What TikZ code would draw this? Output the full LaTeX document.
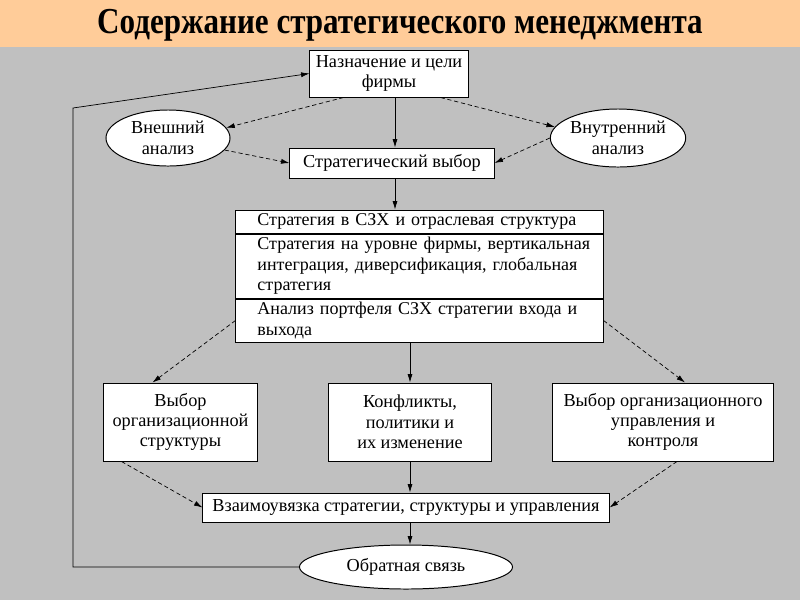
\documentclass[tikz,border=0pt]{standalone}
\usepackage{fontspec}
\setmainfont{Liberation Serif}
\usepackage{tikz}
\usetikzlibrary{arrows.meta,positioning,calc,shapes.geometric}
\definecolor{peach}{RGB}{255,204,153}
\definecolor{slide}{RGB}{192,192,192}
\newcommand{\boxfont}{\fontsize{13}{14.5}\selectfont}
\newcommand{\rowfont}{\fontsize{12.8}{14.5}\selectfont}

\begin{document}
\begin{tikzpicture}[x=0.025cm,y=-0.025cm,
	box/.style={draw,fill=white,line width=0.7pt,font=\boxfont,align=center,inner sep=0pt},
	rowbox/.style={box,font=\rowfont,align=left,text width=8.9cm,inner xsep=0.1375cm,minimum width=9.175cm,
		execute at begin node={\leftskip=0.4cm}},
	oval/.style={ellipse,draw,fill=white,line width=0.7pt,font=\boxfont,align=center,inner sep=0pt},
	sline/.style={line width=0.5pt,-{Latex[length=6pt,width=3.6pt]}},
	dline/.style={sline,densely dashed}]
			\fill[slide] (0,0) rectangle (800,600);
			\fill[peach] (0,0) rectangle (800,47);
			\node (title) at (400,25) {\fontsize{26}{26}\selectfont\bfseries\scalebox{0.85}[1]{Содержание стратегического менеджмента}};
			
			\node[box,minimum width=3.95cm,minimum height=1.175cm] (goal) at (389,73.5) {Назначение и цели\\фирмы};
			\node[oval,minimum width=3.1cm,minimum height=1.4cm] (ext) at (168,138) {Внешний\\анализ};
			\node[oval,minimum width=3.075cm,minimum height=1.45cm] (int) at (618,138) {Внутренний\\анализ};
			\node[box,minimum width=5.1cm,minimum height=0.75cm] (choice) at (392,163) {Стратегический выбор};
			
			\node[rowbox,minimum height=0.575cm] (s1) at (419.5,221.5) {Стратегия в СЗХ и отраслевая структура};
			\node[rowbox,minimum height=1.6cm,below=0pt of s1] (s2) {Стратегия на уровне фирмы, вертикальная\\интеграция, диверсификация, глобальная\\стратегия};
			\node[rowbox,minimum height=1.075cm,below=0pt of s2] (s3) {Анализ портфеля СЗХ стратегии входа и\\выхода};
			
			\node[box,minimum width=3.825cm,minimum height=1.95cm] (org) at (180.5,422) {Выбор\\организационной\\структуры};
			\node[box,minimum width=4.05cm,minimum height=1.95cm] (conf) at (410,422) {Конфликты,\\политики и\\их изменение};
			\node[box,minimum width=5.5cm,minimum height=1.95cm] (ctrl) at (663,422) {Выбор организационного\\управления и\\контроля};
			
			\node[box,minimum width=10.15cm,minimum height=0.725cm] (link) at (406,507.5) {Взаимоувязка стратегии, структуры и управления};
			\node[oval,minimum width=5.325cm,minimum height=1.1cm] (fb) at (406,567) {Обратная связь};
			\coordinate (turn) at (73,108);
			
			\draw[dline] ([xshift=0.85cm]goal.south west) -- (ext.10);
			\draw[dline] ([xshift=-0.7cm]goal.south east) -- (int.170);
			\draw[sline] ([xshift=0.15cm]goal.south) -- ([xshift=0.15cm]goal.south |- choice.north);
			\draw[dline] (ext.-12) -- (choice.west);
			\draw[dline] (int.west) -- (choice.east);
			\draw[sline] ([xshift=0.075cm]choice.south) -- ([xshift=0.075cm]choice.south |- s1.north);
			
			\draw[dline] (s3.west) -- ([xshift=-0.7cm]org.north);
			\draw[sline] (conf.north |- s3.south) -- (conf.north);
			\draw[dline] (s3.east) -- ([xshift=0.55cm]ctrl.north);
			
			\draw[dline] ([xshift=0.45cm]org.south west) -- (link.west);
			\draw[sline] (conf.south) -- (conf.south |- link.north);
			\draw[dline] ([xshift=0.35cm]ctrl.south) -- (link.east);
			\draw[sline] ([xshift=0.1cm]link.south) -- ([xshift=0.1cm]fb.north);
			
			\draw[sline] (fb.west) -| (turn) -- (goal.west);
		\end{tikzpicture}
\end{document}
